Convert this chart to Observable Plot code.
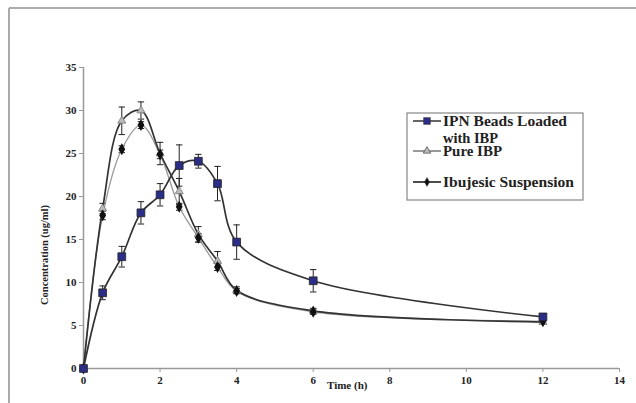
<!DOCTYPE html>
<html><head><meta charset="utf-8">
<script src="https://cdn.jsdelivr.net/npm/d3@7"></script>
<script src="https://cdn.jsdelivr.net/npm/@observablehq/plot@0.6"></script>
<style>body{margin:0;background:#fff;} svg{display:block;}</style>
</head><body><div id="chart"></div>
<script>
const times = [0, 0.5, 1, 1.5, 2, 2.5, 3, 3.5, 4, 6, 12];
const ipn = [0, 8.8, 13.0, 18.1, 20.2, 23.6, 24.1, 21.5, 14.7, 10.2, 6.0];
const ipnErr = [0, 0.8, 1.2, 1.3, 1.3, 2.4, 0.8, 2.0, 2.0, 1.3, 0.3];
const pure = [0, 18.6, 28.8, 30.0, 25.0, 20.6, 15.6, 12.5, 9.1, 6.7, 5.4];
const pureErr = [0, 0.6, 1.6, 1.0, 1.3, 1.5, 0.9, 1.1, 0.4, 0.3, 0.2];
const ibu = [0, 17.8, 25.5, 28.3, 24.9, 18.8, 15.2, 11.8, 9.0, 6.6, 5.5];
const ibuErr = [0, 0.5, 0.4, 0.4, 0.5, 0.4, 0.5, 0.4, 0.3, 0.3, 0.2];
const seriesNames = ["IPN Beads Loaded with IBP", "Pure IBP", "Ibujesic Suspension"];
const xTicks = [0, 2, 4, 6, 8, 10, 12, 14];
const yTicks = [0, 5, 10, 15, 20, 25, 30, 35];

const mk = (vals, errs, name) => times.map((t, i) => ({t, v: vals[i], e: errs[i], name}));
const dIpn = mk(ipn, ipnErr, seriesNames[0]);
const dPure = mk(pure, pureErr, seriesNames[1]);
const dIbu = mk(ibu, ibuErr, seriesNames[2]);

const cap = {draw(ctx, size){const r = Math.sqrt(size/Math.PI); ctx.moveTo(-r,0); ctx.lineTo(r,0);}};
const font = "'Liberation Serif','DejaVu Serif',serif";

function errMarks(data){
  const d = data.filter(p => p.e > 0);
  return [
    Plot.ruleX(d, {x:"t", y1: p => p.v - p.e, y2: p => p.v + p.e, stroke:"#222", strokeWidth:1}),
    Plot.dot(d, {x:"t", y: p => p.v + p.e, symbol: cap, r:3.2, stroke:"#222", strokeWidth:1}),
    Plot.dot(d, {x:"t", y: p => p.v - p.e, symbol: cap, r:3.2, stroke:"#222", strokeWidth:1})
  ];
}

const plot = Plot.plot({
  width: 636, height: 403,
  marginLeft: 83, marginRight: 17, marginTop: 67, marginBottom: 35,
  style: {fontFamily: font, fontWeight: "bold", fontSize: "11px", color: "#222", background: "#fff"},
  x: {domain: [0, 14]},
  y: {domain: [0, 35]},
  marks: [
    Plot.ruleY([0], {stroke:"#999", strokeWidth:1.5}),
    Plot.ruleX([0], {stroke:"#999", strokeWidth:1.5}),
    Plot.axisX({ticks: xTicks, tickSize: 4, stroke:"#999", tickPadding: 4, label: null, fontWeight:"bold"}),
    Plot.axisY({ticks: yTicks, tickSize: 4, stroke:"#999", tickPadding: 3, label: null, fontWeight:"bold"}),
    ...errMarks(dIbu),
    ...errMarks(dPure),
    ...errMarks(dIpn),
    Plot.line(dIbu, {x:"t", y:"v", curve:"catmull-rom", stroke:"#999", strokeWidth:1.3}),
    Plot.line(dPure, {x:"t", y:"v", curve:"catmull-rom", stroke:"#333", strokeWidth:1.7}),
    Plot.line(dIpn, {x:"t", y:"v", curve:"catmull-rom", stroke:"#333", strokeWidth:1.7}),
    Plot.dot(dPure, {x:"t", y:"v", symbol:"triangle", r:3, fill:"#bbb", stroke:"#777", strokeWidth:0.8}),
    Plot.dot(dIbu, {x:"t", y:"v", symbol:"diamond", r:2.7, fill:"#111", stroke:"#111"}),
    Plot.dot(dIpn, {x:"t", y:"v", symbol:"square", r:4.4, fill:"#2b2d86", stroke:"#222", strokeWidth:0.8})
  ]
});
document.getElementById("chart").appendChild(plot);

const svg = d3.select(plot);
// outer frame (top and left edges)
svg.append("line").attr("x1",9).attr("y1",8).attr("x2",636).attr("y2",8).attr("stroke","#aaa").attr("stroke-width",2);
svg.append("line").attr("x1",9).attr("y1",8).attr("x2",9).attr("y2",403).attr("stroke","#aaa").attr("stroke-width",2);
// axis titles
svg.append("text").attr("x",327).attr("y",389).attr("text-anchor","start")
  .attr("font-family",font).attr("font-weight","bold").attr("font-size","11px").attr("fill","#222").text("Time (h)");
svg.append("text").attr("transform","translate(48,255) rotate(-90)").attr("text-anchor","middle")
  .attr("font-family",font).attr("font-weight","bold").attr("font-size","10.5px").attr("fill","#222").text("Concentration (ug/ml)");
// legend
const lg = svg.append("g").attr("text-anchor","start");
lg.append("rect").attr("x",407).attr("y",113).attr("width",176).attr("height",87).attr("fill","#fff").attr("stroke","#888").attr("stroke-width",1.2);
const items = [
  {y:121, stroke:"#333", sym:"square", fill:"#2b2d86", lines:["IPN Beads Loaded","with IBP"], widths:[124, 55]},
  {y:151, stroke:"#777", sym:"triangle", fill:"#bbb", lines:["Pure IBP"], widths:[59]},
  {y:182, stroke:"#111", sym:"diamond", fill:"#111", lines:["Ibujesic Suspension"], widths:[131]}
];
const symMap = {square: d3.symbolSquare, triangle: d3.symbolTriangle, diamond: d3.symbolDiamond};
const symSize = {square: 45, triangle: 25, diamond: 22};
items.forEach(it => {
  lg.append("line").attr("x1",413).attr("x2",441).attr("y1",it.y).attr("y2",it.y).attr("stroke",it.stroke).attr("stroke-width",1.5);
  lg.append("path").attr("transform",`translate(427,${it.y})`).attr("d", d3.symbol(symMap[it.sym], symSize[it.sym])())
    .attr("fill",it.fill).attr("stroke","#333").attr("stroke-width",0.6);
  it.lines.forEach((s, k) => {
    lg.append("text").attr("x",443).attr("y", it.y + 5 + k*16.5).attr("text-anchor","start").attr("font-family",font).attr("font-weight","bold")
      .attr("font-size","14px").attr("fill","#222").attr("textLength", it.widths[k]).attr("lengthAdjust","spacingAndGlyphs").text(s);
  });
});
</script></body></html>
